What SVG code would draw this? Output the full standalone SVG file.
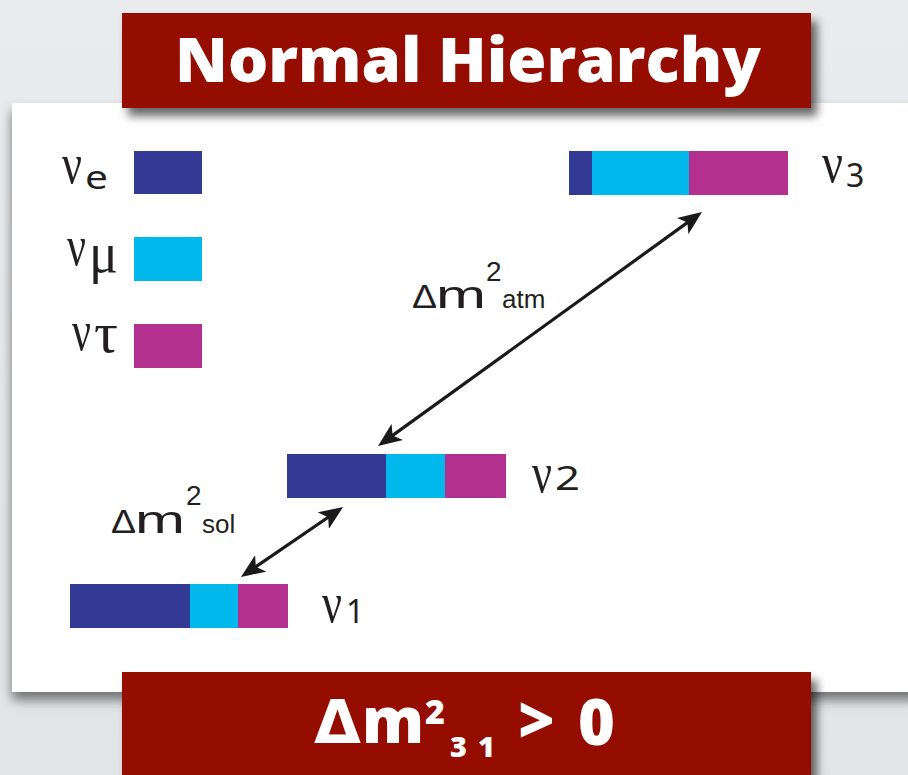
<svg xmlns="http://www.w3.org/2000/svg" width="908" height="775" viewBox="0 0 908 775">
<defs>
  <linearGradient id="bg" x1="0" y1="0" x2="0" y2="1">
    <stop offset="0" stop-color="#eaebed"/>
    <stop offset="1" stop-color="#e3e4e6"/>
  </linearGradient>
  <filter id="boxsh" x="-10%" y="-20%" width="125%" height="150%">
    <feDropShadow dx="6" dy="8" stdDeviation="5" flood-color="#000" flood-opacity="0.6"/>
  </filter>
  <filter id="panelsh" x="-5%" y="-5%" width="115%" height="115%">
    <feDropShadow dx="0" dy="8" stdDeviation="6" flood-color="#000" flood-opacity="0.5"/>
  </filter>
  <marker id="ah" viewBox="0 0 24 20" refX="14" refY="10" markerWidth="24" markerHeight="20" markerUnits="userSpaceOnUse" orient="auto-start-reverse">
    <path d="M0,0 L24,10 L0,20 L6,10 Z" fill="#1a1a1a"/>
  </marker>
</defs>
<style>
  .nu{font-family:"Liberation Serif","Times New Roman",serif;font-size:56px;fill:#231f20}
  .dig{font-family:"Noto Sans","Open Sans",sans-serif;font-size:32px;fill:#231f20}
  .lbl{font-family:"Liberation Sans",Arial,sans-serif;fill:#231f20}
  .big{font-family:"Open Sans","Noto Sans",sans-serif;font-weight:800;fill:#ffffff}
  .bigd{font-family:"DejaVu Sans","Noto Sans",sans-serif;font-weight:700;fill:#ffffff}
  .red{fill:#941100}
  .ce{fill:#333a95}
  .cmu{fill:#00b8ec}
  .ctau{fill:#b3308e}
  .conn{stroke:#1a1a1a;stroke-width:3.2;fill:none;marker-start:url(#ah);marker-end:url(#ah)}
</style>

<rect x="0" y="0" width="908" height="775" fill="url(#bg)"/>
<rect id="panel" x="12" y="103" width="920" height="589" fill="#ffffff" filter="url(#panelsh)"/>

<g id="title">
  <rect class="red" x="122" y="13" width="689" height="95" filter="url(#boxsh)"/>
  <text class="big" x="175" y="82" font-size="62" textLength="586" lengthAdjust="spacingAndGlyphs">Normal Hierarchy</text>
</g>

<g id="legend-e">
  <text class="nu" x="62" y="183" textLength="20" lengthAdjust="spacingAndGlyphs">ν</text>
  <text class="dig" x="85" y="189" font-size="30" textLength="23" lengthAdjust="spacingAndGlyphs">e</text>
  <rect class="ce" x="134" y="151" width="68" height="43"/>
</g>
<g id="legend-mu">
  <text class="nu" x="67" y="265" textLength="19" lengthAdjust="spacingAndGlyphs">ν</text>
  <text class="nu" x="89" y="272" font-size="50" textLength="29" lengthAdjust="spacingAndGlyphs">μ</text>
  <rect class="cmu" x="134" y="237" width="68" height="44"/>
</g>
<g id="legend-tau">
  <text class="nu" x="72" y="350" textLength="19" lengthAdjust="spacingAndGlyphs">ν</text>
  <text class="nu" x="94" y="352" font-size="50" textLength="24" lengthAdjust="spacingAndGlyphs">τ</text>
  <rect class="ctau" x="134" y="324" width="68" height="44"/>
</g>

<g id="nu3">
  <rect class="ce" x="569" y="151" width="23" height="44"/>
  <rect class="cmu" x="592" y="151" width="97" height="44"/>
  <rect class="ctau" x="689" y="151" width="99" height="44"/>
  <text class="nu" x="822" y="182" textLength="21" lengthAdjust="spacingAndGlyphs">ν</text>
  <text class="dig" x="846" y="187">3</text>
</g>
<g id="nu2">
  <rect class="ce" x="287" y="454" width="99" height="44"/>
  <rect class="cmu" x="386" y="454" width="59" height="44"/>
  <rect class="ctau" x="445" y="454" width="61" height="44"/>
  <text class="nu" x="532" y="492" textLength="20" lengthAdjust="spacingAndGlyphs">ν</text>
  <text class="dig" x="555" y="490" textLength="25" lengthAdjust="spacingAndGlyphs">2</text>
</g>
<g id="nu1">
  <rect class="ce" x="70" y="584" width="120" height="44"/>
  <rect class="cmu" x="190" y="584" width="48" height="44"/>
  <rect class="ctau" x="238" y="584" width="50" height="44"/>
  <text class="nu" x="322" y="622" textLength="20" lengthAdjust="spacingAndGlyphs">ν</text>
  <text class="dig" x="346" y="623">1</text>
</g>

<g id="label-atm">
  <text class="lbl" x="412" y="308" font-size="33" textLength="25" lengthAdjust="spacingAndGlyphs">Δ</text>
  <text class="lbl" x="436" y="308" font-size="38.5" textLength="50" lengthAdjust="spacingAndGlyphs">m</text>
  <text class="lbl" x="486" y="281" font-size="28">2</text>
  <text class="lbl" x="502" y="308" font-size="26">atm</text>
</g>
<g id="label-sol">
  <text class="lbl" x="111" y="533" font-size="33" textLength="25" lengthAdjust="spacingAndGlyphs">Δ</text>
  <text class="lbl" x="135" y="533" font-size="38.5" textLength="50" lengthAdjust="spacingAndGlyphs">m</text>
  <text class="lbl" x="186" y="505" font-size="28">2</text>
  <text class="lbl" x="202" y="533" font-size="26">sol</text>
</g>

<g id="connectors">
  <line class="conn" x1="386.1" y1="440.1" x2="693.9" y2="217.9"/>
  <line class="conn" x1="249.2" y1="571.3" x2="334.8" y2="512.7"/>
</g>

<g id="condition">
  <rect class="red" x="122" y="672" width="689" height="115" filter="url(#boxsh)"/>
  <text class="bigd" x="314" y="743" font-size="60" textLength="47" lengthAdjust="spacingAndGlyphs">Δ</text>
  <text class="big" x="362" y="743" font-size="63" textLength="62" lengthAdjust="spacingAndGlyphs">m</text>
  <text class="big" x="425" y="724" font-size="34">2</text>
  <text class="big" x="450" y="757" font-size="29">3</text>
  <text class="big" x="478" y="757" font-size="29">1</text>
  <text class="big" x="518" y="743" font-size="63">&gt;</text>
  <text class="big" x="578" y="745" font-size="63">0</text>
</g>
</svg>
